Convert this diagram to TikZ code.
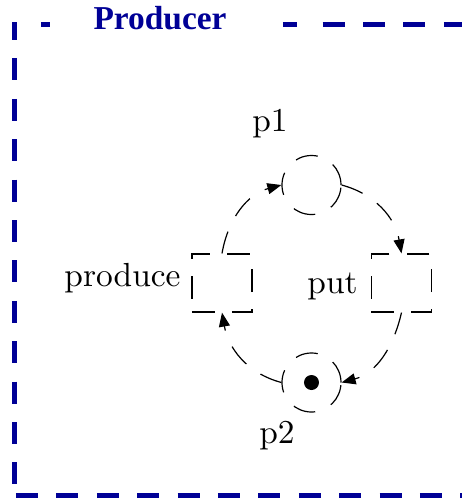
\documentclass[tikz,border=0pt]{standalone}
\usepackage{fontspec}
\newfontfamily\titulofont{Liberation Serif}
\usepackage{xcolor}
\definecolor{azulmarco}{RGB}{0,0,150}
\usepackage{tikz}
\usetikzlibrary{arrows.meta}

\begin{document}
\begin{tikzpicture}[x=0.5pt,y=0.5pt,
  every node/.style={align=center,font=\fontsize{10}{12}\selectfont},
  etiq/.style={scale=1.67,transform shape,anchor=base},
  marco/.style={azulmarco,line width=2.5pt,dash pattern=on 11pt off 9.2pt},
  lugar/.style={circle,draw,line width=0.6pt,dash pattern=on 11.3pt off 8.7pt,minimum size=29.5pt,inner sep=0pt},
  trans/.style={rectangle,draw,line width=0.6pt,dash pattern=on 11.3pt off 8.7pt,minimum width=30pt,minimum height=29pt,inner sep=0pt},
  arco/.style={line width=0.6pt,dash pattern=on 11.3pt off 8.7pt,-{Triangle[length=7pt,width=5.5pt]}}]
  \useasboundingbox (0,0) rectangle (462,-500);
  % --- marco azul del modulo ---
  \draw[marco,dash phase=2pt] (15,-22) -- (15,-495);
  \draw[marco] (16,-495) -- (480,-495);
  \draw[marco,solid] (41,-24) -- (50,-24);
  \draw[marco,solid] (283,-24) -- (297,-24);
  \draw[marco] (322.7,-24) -- (480,-24);
  \node[font=\titulofont\bfseries\fontsize{16.7}{20}\selectfont,text=azulmarco,anchor=base] (titulo) at (160,-29) {Producer};
  % --- lugares y transiciones ---
  \node[lugar] (p1) at (311.5,-185) {};
  \node[lugar] (p2) at (311.5,-382.5) {};
  \node[circle,fill,minimum size=7.5pt,inner sep=0pt] (ficha) at (p2) {};
  \node[trans] (produce) at (222,-283) {};
  \node[trans] (put) at (401.5,-283) {};
  % etiquetas
  \node[etiq] (lp1) at (270,-131) {p1};
  \node[etiq] (lp2) at (277,-443) {p2};
  \node[etiq] (lproduce) at (122.5,-286) {produce};
  \node[etiq] (lput) at (332.5,-293) {put};
  % --- arcos ---
  \draw[arco] (produce.north) to[out=80,in=195] (p1.west);
  \draw[arco] (p1.east) to[out=-15,in=100] (put.north);
  \draw[arco] (put.south) to[out=-103,in=15] (p2.east);
  \draw[arco] (p2.west) to[out=165,in=-80] (produce.south);
\end{tikzpicture}
\end{document}
